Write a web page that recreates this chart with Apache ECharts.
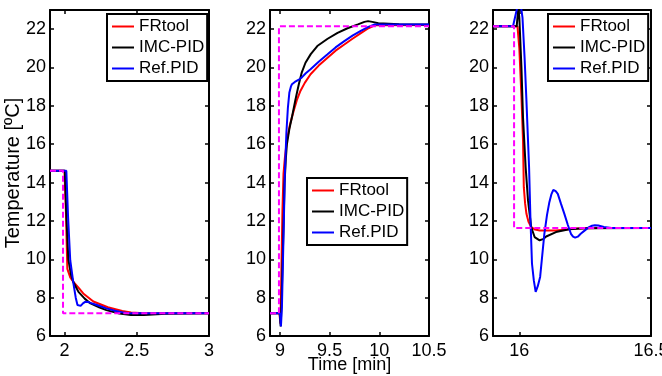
<!DOCTYPE html>
<html>
<head>
<meta charset="utf-8">
<script src="https://cdn.jsdelivr.net/npm/echarts@6/dist/echarts.min.js"></script>
<style>
  html, body { margin: 0; padding: 0; background: #fff; }
  #chart { width: 662px; height: 376px; }
</style>
</head>
<body>
<div id="chart"></div>
<script>
// [time (min), temperature (ºC)] pairs
const names = ["FRtool", "IMC-PID", "Ref.PID"];
const yTicks = [6, 8, 10, 12, 14, 16, 18, 20, 22];
const xTicks1 = [2, 2.5, 3];
const xTicks2 = [9, 9.5, 10, 10.5];
const xTicks3 = [16, 16.5];

// panel 1: step down
const setpoint1 = [[1.9, 14.62], [1.99, 14.62], [1.99, 7.18], [3, 7.18]];
const frtool1 = [[1.9, 14.62], [2.0, 14.62], [2.01, 12.5], [2.02, 9.5], [2.04, 9.05], [2.062, 8.82],
  [2.1, 8.5], [2.13, 8.22], [2.2, 7.8], [2.3, 7.5], [2.4, 7.3], [2.46, 7.22], [2.55, 7.18], [3, 7.18]];
const imc1 = [[1.9, 14.62], [2.003, 14.62], [2.012, 12.5], [2.027, 10.0], [2.045, 9.2], [2.062, 8.8],
  [2.097, 8.3], [2.14, 7.95], [2.18, 7.7], [2.24, 7.5], [2.29, 7.35], [2.38, 7.17], [2.46, 7.09],
  [2.55, 7.1], [2.7, 7.16], [3, 7.18]];
const ref1 = [[1.9, 14.62], [2.013, 14.62], [2.025, 12.2], [2.04, 9.95], [2.062, 8.74], [2.078, 8.0],
  [2.09, 7.62], [2.1, 7.56], [2.112, 7.57], [2.128, 7.7], [2.143, 7.78], [2.165, 7.77], [2.18, 7.73],
  [2.23, 7.6], [2.29, 7.44], [2.35, 7.32], [2.41, 7.22], [2.46, 7.18], [3, 7.18]];

// panel 2: step up
const setpoint2 = [[8.9, 7.18], [8.99, 7.18], [8.99, 22.15], [10.5, 22.15]];
const frtool2 = [[8.9, 7.18], [8.995, 7.18], [9.005, 6.65], [9.015, 9.5], [9.025, 12.5], [9.036, 14.47],
  [9.05, 15.3], [9.07, 16.2], [9.1, 17.0], [9.138, 17.74], [9.17, 18.3], [9.206, 18.78], [9.25, 19.2],
  [9.308, 19.65], [9.39, 20.1], [9.479, 20.51], [9.56, 20.88], [9.648, 21.2], [9.73, 21.5],
  [9.818, 21.81], [9.89, 22.05], [9.954, 22.2], [10.5, 22.22]];
const imc2 = [[8.9, 7.18], [8.998, 7.18], [9.008, 6.5], [9.02, 8.5], [9.035, 11.5], [9.046, 13.93],
  [9.06, 15.3], [9.07, 16.0], [9.095, 16.8], [9.12, 17.39], [9.155, 18.3], [9.19, 19.13], [9.22, 19.75],
  [9.257, 20.25], [9.31, 20.7], [9.376, 21.12], [9.48, 21.5], [9.58, 21.81], [9.68, 22.05],
  [9.785, 22.25], [9.85, 22.38], [9.887, 22.42], [9.93, 22.38], [9.99, 22.31], [10.2, 22.26], [10.5, 22.24]];
const ref2 = [[8.9, 7.18], [9.0, 7.18], [9.01, 6.5], [9.02, 7.5], [9.035, 11.0], [9.05, 14.5],
  [9.065, 16.6], [9.08, 17.9], [9.095, 18.7], [9.11, 19.0], [9.121, 19.13], [9.15, 19.25], [9.172, 19.32],
  [9.2, 19.4], [9.223, 19.5], [9.26, 19.7], [9.308, 19.91], [9.39, 20.3], [9.479, 20.69], [9.56, 21.05],
  [9.648, 21.38], [9.73, 21.66], [9.818, 21.93], [9.89, 22.12], [9.954, 22.25], [10.5, 22.24]];

// panel 3: step down
const setpoint3 = [[15.9, 22.15], [15.98, 22.15], [15.98, 11.63], [16.5, 11.63]];
const frtool3 = [[15.9, 22.15], [15.993, 22.15], [16.0, 21.0], [16.008, 18.5], [16.014, 16.18],
  [16.017, 13.76], [16.022, 12.9], [16.027, 12.37], [16.035, 11.95], [16.045, 11.68], [16.06, 11.55],
  [16.077, 11.5], [16.139, 11.5], [16.215, 11.6], [16.3, 11.63], [16.5, 11.63]];
const imc3 = [[15.9, 22.15], [15.99, 22.15], [15.996, 23.1], [16.0, 22.6], [16.008, 20.0], [16.014, 17.39],
  [16.024, 14.8], [16.033, 13.07], [16.045, 11.68], [16.058, 11.16], [16.077, 10.99], [16.09, 11.05],
  [16.102, 11.19], [16.139, 11.42], [16.189, 11.57], [16.25, 11.62], [16.5, 11.63]];
const ref3 = [[15.9, 22.15], [15.976, 22.15], [15.985, 22.7], [15.995, 23.3], [16.005, 23.3], [16.012, 22.6],
  [16.02, 20.5], [16.027, 18.26], [16.037, 14.8], [16.042, 12.2], [16.048, 9.78], [16.055, 8.9],
  [16.062, 8.3], [16.07, 8.6], [16.079, 9.08], [16.087, 10.2], [16.095, 11.33], [16.105, 12.3],
  [16.114, 12.98], [16.122, 13.4], [16.129, 13.62], [16.138, 13.55], [16.146, 13.41], [16.158, 12.9],
  [16.171, 12.37], [16.184, 11.8], [16.196, 11.33], [16.204, 11.18], [16.212, 11.13], [16.222, 11.18],
  [16.233, 11.33], [16.25, 11.52], [16.265, 11.68], [16.276, 11.75], [16.287, 11.78], [16.3, 11.76],
  [16.321, 11.68], [16.35, 11.63], [16.5, 11.63]];

const FONT = "Liberation Sans, Arial, Helvetica, sans-serif";
const colors = ["#ff0000", "#000000", "#0000ff"];

const panels = [
  { range: [1.9, 3], ticks: xTicks1, lines: [frtool1, imc1, ref1], sp: setpoint1 },
  { range: [8.9, 10.5], ticks: xTicks2, lines: [frtool2, imc2, ref2], sp: setpoint2 },
  { range: [15.9, 16.5], ticks: xTicks3, lines: [frtool3, imc3, ref3], sp: setpoint3 }
];

const grids = [
  { left: 50, top: 10, width: 159, height: 326, outerBoundsMode: "none" },
  { left: 270, top: 10, width: 159, height: 326, outerBoundsMode: "none" },
  { left: 493, top: 10, width: 158, height: 326, outerBoundsMode: "none" }
];

const line_style = { color: "#000", width: 2 };
const tick_style = { color: "#000", width: 1.5 };

const xAxes = [];
const yAxes = [];
// primary axes (bottom / left) with labels
panels.forEach((p, i) => {
  xAxes.push({
    type: "value", gridIndex: i, position: "bottom",
    min: p.range[0], max: p.range[1],
    axisLine: { onZero: false, lineStyle: line_style },
    axisTick: { inside: true, length: 4, lineStyle: tick_style, customValues: p.ticks },
    axisLabel: { customValues: p.ticks, color: "#000", fontSize: 18, fontFamily: FONT, margin: 6 },
    splitLine: { show: false },
    name: i === 1 ? "Time [min]" : "",
    nameLocation: "middle", nameGap: 20, nameMoveOverlap: false,
    nameTextStyle: { color: "#000", fontSize: 18, fontFamily: FONT }
  });
  yAxes.push({
    type: "value", gridIndex: i, position: "left",
    min: 6, max: 23,
    axisLine: { onZero: false, lineStyle: line_style },
    axisTick: { inside: true, length: 4, lineStyle: tick_style, customValues: yTicks },
    axisLabel: { customValues: yTicks, color: "#000", fontSize: 18, fontFamily: FONT, margin: 4 },
    splitLine: { show: false },
    name: i === 0 ? "Temperature [ºC]" : "",
    nameLocation: "middle", nameGap: 27, nameMoveOverlap: false,
    nameTextStyle: { color: "#000", fontSize: 20, fontFamily: FONT }
  });
});
// mirrored axes (top / right) for the box and inner ticks
panels.forEach((p, i) => {
  xAxes.push({
    type: "value", gridIndex: i, position: "top",
    min: p.range[0], max: p.range[1],
    axisLine: { onZero: false, lineStyle: line_style },
    axisTick: { inside: true, length: 4, lineStyle: tick_style, customValues: p.ticks },
    axisLabel: { show: false },
    splitLine: { show: false }
  });
  yAxes.push({
    type: "value", gridIndex: i, position: "right",
    min: 6, max: 23,
    axisLine: { onZero: false, lineStyle: line_style },
    axisTick: { inside: true, length: 4, lineStyle: tick_style, customValues: yTicks },
    axisLabel: { show: false },
    splitLine: { show: false }
  });
});

const series = [];
panels.forEach((p, i) => {
  p.lines.forEach((d, k) => {
    series.push({
      name: names[k], type: "line", xAxisIndex: i, yAxisIndex: i,
      data: d, symbol: "none", clip: true,
      itemStyle: { color: colors[k] },
      lineStyle: { color: colors[k], width: 2 }
    });
  });
  series.push({
    name: "Setpoint", type: "line", xAxisIndex: i, yAxisIndex: i,
    data: p.sp, symbol: "none", clip: true,
    itemStyle: { color: "#ff00ff" },
    lineStyle: { color: "#ff00ff", width: 2, type: [6, 3] }
  });
});

const legendAt = (left, top) => ({
  left, top, orient: "vertical",
  data: names, selectedMode: false,
  icon: "rect", itemWidth: 22, itemHeight: 2, itemGap: 0,
  padding: [2, 3, 2, 5],
  backgroundColor: "#fff", borderColor: "#000", borderWidth: 2,
  textStyle: { color: "#000", fontSize: 17, fontFamily: FONT, lineHeight: 21 }
});

const chart = echarts.init(document.getElementById("chart"), null, { renderer: "canvas" });
chart.setOption({
  animation: false,
  backgroundColor: "#fff",
  grid: grids,
  xAxis: xAxes,
  yAxis: yAxes,
  legend: [legendAt(107, 14), legendAt(307, 178), legendAt(548, 14)],
  series
});
</script>
</body>
</html>
